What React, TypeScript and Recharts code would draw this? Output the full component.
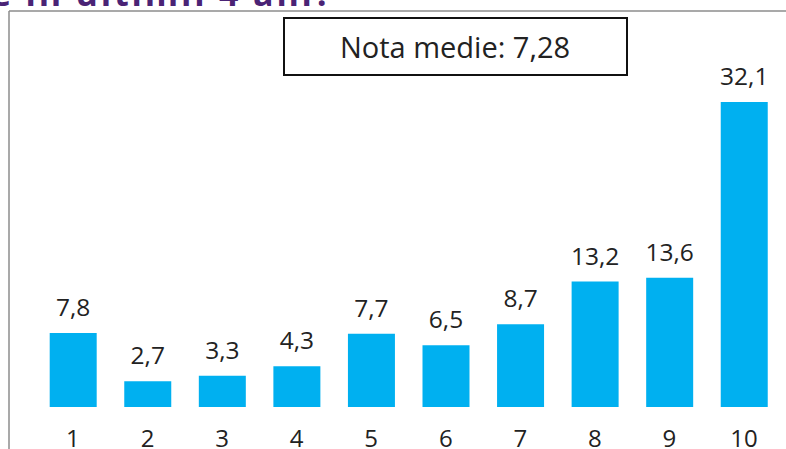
import { BarChart, Bar, XAxis, YAxis, LabelList } from "recharts"

const grades = ["1", "2", "3", "4", "5", "6", "7", "8", "9", "10"]
const shares = [7.8, 2.7, 3.3, 4.3, 7.7, 6.5, 8.7, 13.2, 13.6, 32.1]
const averageText = "Nota medie: 7,28"
const titleTail = "e în ultimii 4 ani?"

const data = grades.map((g, i) => ({ grade: g, share: shares[i] }))

const font = "'Open Sans', Lato, sans-serif"

const GradeTick = (props: any) => {
  const { x, y, payload } = props
  return (
    <text x={x} y={y + 40} textAnchor="middle" fontSize={24} fill="#222" fontFamily={font}>
      {payload.value}
    </text>
  )
}

export default function App() {
  return (
    <div style={{ position: "absolute", left: 0, top: 0, width: 786, height: 449, overflow: "hidden", background: "#fff" }}>
      {/* cropped slide title + chart frame */}
      <svg width={786} height={449} style={{ position: "absolute", left: 0, top: 0 }}>
        <text x={-9} y={6} fontSize={34} fontWeight={700} fill="#4a2375" fontFamily={font} textLength={340}>
          {titleTail}
        </text>
        <line x1={9} y1={11} x2={786} y2={11} stroke="#8c8c8c" strokeWidth={1.5} />
        <line x1={9} y1={11} x2={9} y2={449} stroke="#8c8c8c" strokeWidth={1.5} />
        <rect x={284} y={18} width={343} height={57} fill="#fff" stroke="#111" strokeWidth={2} />
        <text x={455} y={58} textAnchor="middle" fontSize={29} fill="#222" fontFamily={font}>
          {averageText}
        </text>
      </svg>
      <div style={{ position: "absolute", left: 0, top: 0 }}>
        <BarChart width={786} height={449} data={data} margin={{ top: 74.4, right: 4.7, left: 35.7, bottom: 0 }}>
          <XAxis dataKey="grade" axisLine={false} tickLine={false} tickSize={0} tickMargin={0} height={42} tick={<GradeTick />} interval={0} />
          <YAxis hide domain={[0, 35]} />
          <Bar dataKey="share" fill="#00b0f0" barSize={47} isAnimationActive={false}>
            <LabelList
              dataKey="share"
              position="top"
              offset={17}
              fontSize={24.5}
              fill="#222"
              fontFamily={font}
              formatter={(v: any) => String(v).replace(".", ",")}
            />
          </Bar>
        </BarChart>
      </div>
    </div>
  )
}
